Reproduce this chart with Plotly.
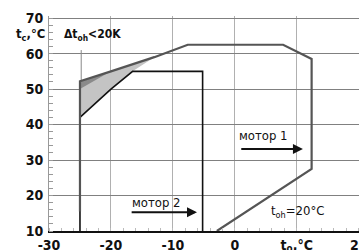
import plotly.graph_objects as go

# Data
motor1_x = [-25, -25, -20, -13, -7.6, 7.8, 12.4, 12.4, -2.9]
motor1_y = [15.5, 52.2, 55, 59, 62.5, 62.5, 58.5, 27.5, 10]
motor2_x = [-25, -25, -20, -16.5, -5.2, -5.2]
motor2_y = [10, 42, 50, 55, 55, 10]
shade_x = [-25, -20, -13, -16.5, -20, -25, -25]
shade_y = [52.2, 55, 59, 55, 50, 42, 52.2]
dark_x = [-25, -20, -25, -25]
dark_y = [52.2, 55, 50, 52.2]
leader_x = [-24.8, -24.8]
leader_y = [61, 52.5]
xtick_vals = [-30, -20, -10, 0, 10, 20]
xtick_text = ["-30", "-20", "-10", "0", "t<sub>o</sub>,°C", "20"]
ytick_vals = [10, 20, 30, 40, 50, 60, 70]
arrow1_x = [0.8, 11.0]
arrow1_y = [33.1, 33.1]
arrow2_x = [-16.9, -6.1]
arrow2_y = [15.3, 15.3]

FONT = "DejaVu Sans Condensed, Liberation Sans Narrow, Arial Narrow, sans-serif"

fig = go.Figure()
fig.add_trace(go.Scatter(x=shade_x, y=shade_y, mode="lines", fill="toself",
                         fillcolor="#c4c4c4", line=dict(width=0), hoverinfo="skip"))
fig.add_trace(go.Scatter(x=dark_x, y=dark_y, mode="lines", fill="toself",
                         fillcolor="#8a8a8a", line=dict(width=0), hoverinfo="skip"))
fig.add_trace(go.Scatter(x=leader_x, y=leader_y, mode="lines",
                         line=dict(color="#888888", width=1)))
fig.add_trace(go.Scatter(x=motor2_x, y=motor2_y, mode="lines",
                         line=dict(color="#111111", width=1.6)))
fig.add_trace(go.Scatter(x=motor1_x, y=motor1_y, mode="lines",
                         line=dict(color="#555555", width=2.2)))

annos = []
for ax_, ay_ in [(arrow1_x, arrow1_y), (arrow2_x, arrow2_y)]:
    annos.append(dict(x=ax_[1], y=ay_[1], ax=ax_[0], ay=ay_[0], xref="x", yref="y",
                      axref="x", ayref="y", showarrow=True, arrowhead=2,
                      arrowsize=1, arrowwidth=2, arrowcolor="#111111", text=""))
annos += [
    dict(x=4.7, y=36.8, xref="x", yref="y", text="мотор 1", showarrow=False,
         font=dict(family=FONT, size=13, color="#111111")),
    dict(x=-12.7, y=18.0, xref="x", yref="y", text="мотор 2", showarrow=False,
         font=dict(family=FONT, size=13, color="#111111")),
    dict(x=10.2, y=15.5, xref="x", yref="y", text="t<sub>oh</sub>=20°C", showarrow=False,
         font=dict(family=FONT, size=13, color="#111111")),
    dict(x=92, y=35, xref="paper", yref="paper", text="Δt<sub>oh</sub><20K",
         showarrow=False, font=dict(family=FONT, size=12, color="#111111", weight="bold")),
    dict(x=30, y=35, xref="paper", yref="paper", text="t<sub>c</sub>,°C",
         showarrow=False, font=dict(family=FONT, size=13, color="#111111", weight="bold")),
]
# convert pixel-positioned annotations (window pixels) to paper coords
for a in annos:
    if a.get("xref") == "paper":
        a["x"] = (a["x"] - 49) / 310
        a["y"] = (231 - a["y"]) / 215
        a["xanchor"] = "center"
        a["yanchor"] = "middle"

fig.update_layout(
    width=359, height=250,
    margin=dict(l=49, r=0, t=16, b=19, autoexpand=False),
    paper_bgcolor="white", plot_bgcolor="white",
    showlegend=False,
    font=dict(family=FONT, size=14, color="#111111"),
    annotations=annos,
    xaxis=dict(range=[-30, 20.05], tickvals=xtick_vals, ticktext=xtick_text,
               showgrid=True, gridcolor="#b0b0b0", gridwidth=1,
               zeroline=False, showline=True, linecolor="#111111", linewidth=1.5,
               ticks="", automargin=False, ticklabeloverflow="allow",
               tickfont=dict(family=FONT, size=14, weight="bold"),
               minor=dict(ticks="inside", dtick=2, ticklen=3, tickcolor="#bbbbbb", showgrid=False),
               fixedrange=True),
    yaxis=dict(range=[10, 70.6], tickvals=ytick_vals,
               showgrid=True, gridcolor="#808080", gridwidth=1,
               zeroline=False, showline=True, linecolor="#999999", linewidth=1,
               ticks="", ticklabelstandoff=2, automargin=False, ticklabeloverflow="allow",
               tickfont=dict(family=FONT, size=14, weight="bold"),
               minor=dict(ticks="inside", dtick=2, ticklen=4, tickcolor="#999999", showgrid=False),
               fixedrange=True),
)

fig.write_html("out.html", config={"displayModeBar": False},
               post_script="document.body.style.margin='0';document.body.style.overflow='hidden';")
